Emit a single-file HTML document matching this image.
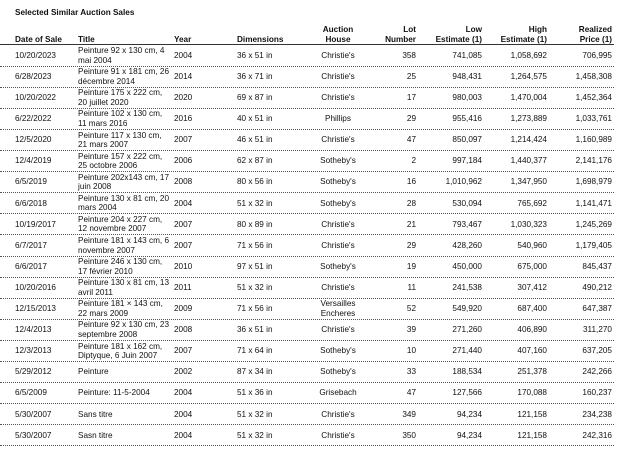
<!DOCTYPE html>
<html><head><meta charset="utf-8"><style>
body{margin:0;width:624px;height:457px;background:#fff;font-family:"Liberation Sans",Arial,sans-serif;font-size:8.2px;color:#111;position:relative;overflow:hidden}
.t{position:absolute;left:15px;top:8px;font-weight:bold}
.hd{position:absolute;left:0;top:20px;width:614px;height:24px;border-bottom:1.6px solid #333;font-weight:bold}
.r{position:absolute;left:0;width:614px;height:20.1px;border-bottom:1px dotted #555}
.c{position:absolute;top:0;height:100%;display:flex;align-items:center;line-height:9.5px}
.hd .c{align-items:flex-end;padding-bottom:1px}
.a{left:15px}.b{left:78px;width:91px}.y{left:174px}.d{left:237px}
.h{left:300px;width:76px;justify-content:center;text-align:center}
.l{right:198px;justify-content:flex-end;text-align:right}
.lo{right:132px;justify-content:flex-end;text-align:right}
.hi{right:67px;justify-content:flex-end;text-align:right}
.p{right:2px;justify-content:flex-end;text-align:right}
</style></head><body>
<div class="t">Selected Similar Auction Sales</div>
<div class="hd">
<div class="c a">Date of Sale</div><div class="c b">Title</div><div class="c y">Year</div><div class="c d">Dimensions</div>
<div class="c h">Auction<br>House</div><div class="c l">Lot<br>Number</div><div class="c lo">Low<br>Estimate (1)</div><div class="c hi">High<br>Estimate (1)</div><div class="c p">Realized<br>Price (1)</div>
</div>
<div id="rows"></div>
<script>
var d=[
["10/20/2023","Peinture 92 x 130 cm, 4<br>mai 2004","2004","36 x 51 in","Christie's","358","741,085","1,058,692","706,995"],
["6/28/2023","Peinture 91 x 181 cm, 26<br>décembre 2014","2014","36 x 71 in","Christie's","25","948,431","1,264,575","1,458,308"],
["10/20/2022","Peinture 175 x 222 cm,<br>20 juillet 2020","2020","69 x 87 in","Christie's","17","980,003","1,470,004","1,452,364"],
["6/22/2022","Peinture 102 x 130 cm,<br>11 mars 2016","2016","40 x 51 in","Phillips","29","955,416","1,273,889","1,033,761"],
["12/5/2020","Peinture 117 x 130 cm,<br>21 mars 2007","2007","46 x 51 in","Christie's","47","850,097","1,214,424","1,160,989"],
["12/4/2019","Peinture 157 x 222 cm,<br>25 octobre 2006","2006","62 x 87 in","Sotheby's","2","997,184","1,440,377","2,141,176"],
["6/5/2019","Peinture 202x143 cm, 17<br>juin 2008","2008","80 x 56 in","Sotheby's","16","1,010,962","1,347,950","1,698,979"],
["6/6/2018","Peinture 130 x 81 cm, 20<br>mars 2004","2004","51 x 32 in","Sotheby's","28","530,094","765,692","1,141,471"],
["10/19/2017","Peinture 204 x 227 cm,<br>12 novembre 2007","2007","80 x 89 in","Christie's","21","793,467","1,030,323","1,245,269"],
["6/7/2017","Peinture 181 x 143 cm, 6<br>novembre 2007","2007","71 x 56 in","Christie's","29","428,260","540,960","1,179,405"],
["6/6/2017","Peinture 246 x 130 cm,<br>17 février 2010","2010","97 x 51 in","Sotheby's","19","450,000","675,000","845,437"],
["10/20/2016","Peinture 130 x 81 cm, 13<br>avril 2011","2011","51 x 32 in","Christie's","11","241,538","307,412","490,212"],
["12/15/2013","Peinture 181 × 143 cm,<br>22 mars 2009","2009","71 x 56 in","Versailles<br>Encheres","52","549,920","687,400","647,387"],
["12/4/2013","Peinture 92 x 130 cm, 23<br>septembre 2008","2008","36 x 51 in","Christie's","39","271,260","406,890","311,270"],
["12/3/2013","Peinture 181 x 162 cm,<br>Diptyque, 6 Juin 2007","2007","71 x 64 in","Sotheby's","10","271,440","407,160","637,205"],
["5/29/2012","Peinture","2002","87 x 34 in","Sotheby's","33","188,534","251,378","242,266"],
["6/5/2009","Peinture: 11-5-2004","2004","51 x 36 in","Grisebach","47","127,566","170,088","160,237"],
["5/30/2007","Sans titre","2004","51 x 32 in","Christie's","349","94,234","121,158","234,238"],
["5/30/2007","Sasn titre","2004","51 x 32 in","Christie's","350","94,234","121,158","242,316"]];
var cls=["a","b","y","d","h","l","lo","hi","p"],h="";
d.forEach(function(r,i){h+='<div class="r" style="top:'+(45.6+i*21.1)+'px">';r.forEach(function(v,j){h+='<div class="c '+cls[j]+'" style="white-space:nowrap">'+v+'</div>'});h+='</div>'});
document.getElementById("rows").innerHTML=h;
</script>
</body></html>
